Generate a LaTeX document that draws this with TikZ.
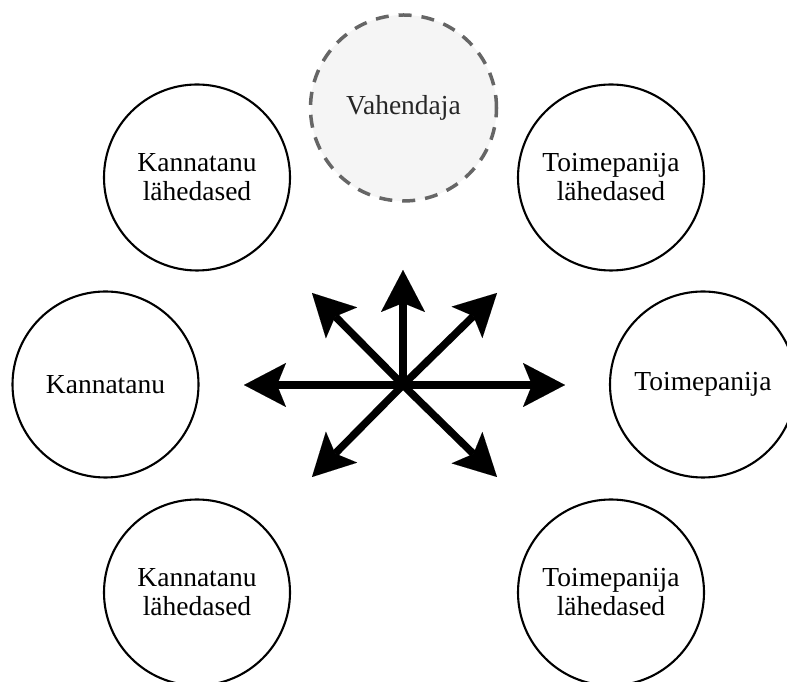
\documentclass[tikz,border=0pt]{standalone}
\usepackage{fontspec}
\setmainfont{Liberation Serif}
\usetikzlibrary{arrows.meta}
\definecolor{vfill}{HTML}{F5F5F5}
\definecolor{vdash}{HTML}{666666}
\definecolor{vtext}{HTML}{262626}
\tikzset{
  party/.style={circle, draw=black, line width=2.1pt, fill=white, minimum size=186pt, inner sep=0pt,
    align=center, font=\fontsize{27.5}{29}\selectfont},
  mediator/.style={party, draw=vdash, fill=vfill, text=vtext, line width=3.5pt, dash pattern=on 13pt off 10pt},
  bigarrow/.style={line width=7.5pt, -{Stealth[length=42pt, width=44pt, inset=9pt, line width=0.01pt]}}
}
\begin{document}
\begin{tikzpicture}[x=1pt, y=1pt]
\useasboundingbox (0,0) rectangle (787,682);
\node[mediator] (vah) at (403.5,574) {Vahendaja};
\node[party] (kl1) at (197,504.5) {Kannatanu\\lähedased};
\node[party] (tl1) at (611,504.5) {Toimepanija\\lähedased};
\node[party] (kan) at (105.5,297.5) {Kannatanu};
\node[party] (toi) at (703,297.5) {Toimepanija};
\node[party] (kl2) at (197,89.5) {Kannatanu\\lähedased};
\node[party] (tl2) at (611,89.5) {Toimepanija\\lähedased};

\coordinate (c) at (403,297);
\coordinate (pl) at (244,297);
\coordinate (pr) at (565,297);
\coordinate (pu) at (403,412);
\coordinate (pul) at (312,389);
\coordinate (pur) at (497,389);
\coordinate (pdl) at (312,205);
\coordinate (pdr) at (497,205);
\foreach \t in {pl,pr,pu,pul,pur,pdl,pdr}
  \draw[bigarrow] (c) -- (\t);
\end{tikzpicture}
\end{document}
